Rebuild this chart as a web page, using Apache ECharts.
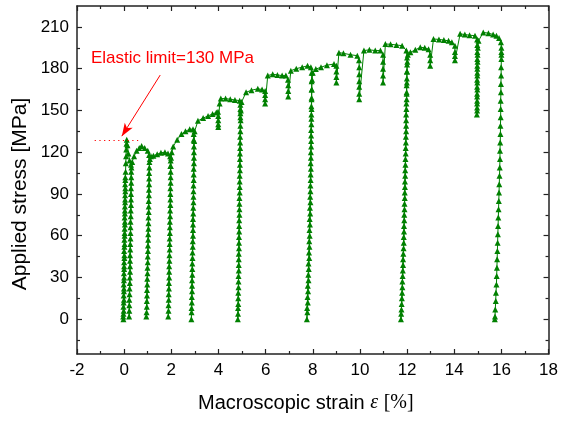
<!DOCTYPE html>
<html>
<head>
<meta charset="utf-8">
<script src="https://cdn.jsdelivr.net/npm/echarts@6/dist/echarts.min.js"></script>
<style>
  html, body { margin: 0; padding: 0; background: #fff; }
  #chart { width: 561px; height: 421px; }
</style>
</head>
<body>
<div id="chart"></div>
<script>
// strain [%], stress [MPa] in test order
var firstLoad = [[-0.03,0],[-0.02,6],[-0.01,14],[-0.01,22],[0.0,30],[0.0,38],[0.01,46],[0.02,54],[0.02,62],[0.03,70],[0.03,78],[0.04,86],[0.05,94],[0.05,102],
  [0.04,97],[0.04,89],[0.03,81],[0.02,73],[0.02,65],[0.01,57],[0.0,49],[0.0,41],[-0.01,33],[-0.02,25],[-0.02,17],[-0.03,9],[-0.04,2],
  [-0.03,4],[-0.02,12],[-0.01,20],[-0.01,28],[0.0,36],[0.01,44],[0.01,52],[0.02,60],[0.03,68],[0.03,76],[0.04,84],[0.05,92],[0.05,100],[0.06,106],[0.07,112],[0.08,117],[0.09,122],[0.1,126],[0.11,129]];
var yieldDrop = [[0.14,125],[0.18,119],[0.23,114],[0.29,111]];
var cycle03 = [[0.3,106],[0.3,98],[0.29,90],[0.29,82],[0.28,74],[0.27,66],[0.27,58],[0.26,50],[0.25,42],[0.25,34],[0.24,26],[0.23,18],[0.22,10],[0.21,2],
  [0.22,6],[0.22,14],[0.23,22],[0.24,30],[0.25,38],[0.25,46],[0.26,54],[0.27,62],[0.27,70],[0.28,78],[0.29,86],[0.29,94],[0.3,102],[0.31,109],[0.34,113]];
var harden1 = [[0.42,117],[0.53,121],[0.64,123],[0.74,124.5],[0.87,123],[1.0,121],[1.06,118]];
var cycle1 = [[1.07,113],[1.06,105],[1.06,97],[1.05,89],[1.04,81],[1.03,73],[1.03,65],[1.02,57],[1.01,49],[1.0,41],[0.99,33],[0.98,25],[0.97,17],[0.96,9],[0.94,2],
  [0.95,5],[0.96,13],[0.97,21],[0.98,29],[0.99,37],[1.0,45],[1.01,53],[1.02,61],[1.03,69],[1.04,77],[1.04,85],[1.05,93],[1.06,101],[1.07,109],[1.09,115],[1.14,117]];
var harden2 = [[1.24,117.5],[1.4,118.5],[1.56,119.5],[1.73,120],[1.86,119],[1.95,117]];
var cycle2 = [[1.97,114],[1.96,110],[1.97,106],[1.97,98],[1.96,90],[1.96,82],[1.95,74],[1.94,66],[1.93,58],[1.93,50],[1.92,42],[1.91,34],[1.9,26],[1.89,18],[1.88,10],[1.87,2],
  [1.88,6],[1.89,14],[1.9,22],[1.91,30],[1.91,38],[1.92,46],[1.93,54],[1.94,62],[1.94,70],[1.95,78],[1.96,86],[1.96,94],[1.97,102],[1.98,110],[1.99,116],[2.02,120]];
var harden3 = [[2.08,124],[2.25,129],[2.43,133],[2.6,135],[2.78,136.5],[2.92,136.5]];
var cycle3 = [[2.95,133],[2.95,129],[2.96,124],[2.96,116],[2.95,108],[2.95,100],[2.94,92],[2.94,84],[2.93,76],[2.92,68],[2.92,60],[2.91,52],[2.9,44],[2.89,36],[2.88,28],[2.88,20],[2.87,12],[2.86,5],[2.85,0],
  [2.86,8],[2.87,16],[2.88,24],[2.89,32],[2.89,40],[2.9,48],[2.91,56],[2.92,64],[2.92,72],[2.93,80],[2.94,88],[2.94,96],[2.95,104],[2.96,112],[2.96,120],[2.97,128],[2.99,135]];
var harden4 = [[3.13,142.5],[3.35,144.5],[3.56,146],[3.75,147.5],[3.91,148.5],[3.98,149]];
var relax4 = [[3.99,146],[3.99,143],[3.99,140],[3.99,138]];
var harden5 = [[4.05,155],[4.1,158.5],[4.3,158.5],[4.5,158],[4.7,157.5],[4.9,157]];
var cycle5 = [[4.93,154],[4.93,151],[4.93,148],[4.93,145],[4.93,139],[4.92,131],[4.92,123],[4.91,115],[4.91,107],[4.9,99],[4.9,91],[4.89,83],[4.89,75],[4.88,67],[4.87,59],[4.87,51],[4.86,43],[4.86,35],[4.85,27],[4.84,19],[4.84,11],[4.83,4],[4.82,0],
  [4.83,8],[4.84,15],[4.85,23],[4.85,31],[4.86,39],[4.86,47],[4.87,55],[4.88,63],[4.88,71],[4.89,79],[4.89,87],[4.9,95],[4.9,103],[4.91,111],[4.91,119],[4.92,127],[4.93,135],[4.94,143],[4.95,150],[4.98,156]];
var harden6 = [[5.17,163],[5.4,164.5],[5.67,165.5],[5.85,165],[5.98,164]];
var relax6 = [[5.98,161],[5.98,158],[5.98,155]];
var harden7 = [[6.09,175],[6.3,176],[6.5,175.5],[6.7,175],[6.86,175],[6.95,172]];
var relax7 = [[6.96,168],[6.96,164],[6.96,160]];
var harden8 = [[7.07,178.5],[7.3,180],[7.55,181],[7.78,182],[7.92,181]];
var cycle8 = [[7.95,177],[7.95,171],[7.95,165],[7.95,159],[7.94,153],[7.94,147],[7.94,140],[7.93,132],[7.93,124],[7.92,116],[7.92,108],[7.91,100],[7.9,92],[7.9,84],[7.89,76],[7.88,68],[7.87,60],[7.86,52],[7.85,44],[7.83,36],[7.82,28],[7.8,20],[7.79,12],[7.77,5],[7.75,0],
  [7.76,8],[7.78,16],[7.79,24],[7.81,32],[7.82,40],[7.84,48],[7.85,56],[7.86,64],[7.87,72],[7.88,80],[7.89,88],[7.9,96],[7.91,104],[7.91,112],[7.92,120],[7.93,128],[7.93,136],[7.94,144],[7.95,151],[7.95,158],[7.96,165],[7.97,172],[8.0,177]];
var harden9 = [[8.13,179.7],[8.35,181],[8.6,182.5],[8.9,183.3],[9.0,182]];
var relax9 = [[9.0,178],[9.0,174],[9.0,170]];
var harden10 = [[9.11,191.5],[9.3,191],[9.6,190],[9.89,189.3],[9.96,186]];
var relax10 = [[9.97,181],[9.97,176],[9.97,171],[9.97,167],[9.97,162],[9.97,158]];
var harden11 = [[10.17,193],[10.4,193.5],[10.65,193],[10.87,193],[10.98,190]];
var relax11 = [[10.98,185],[10.98,180],[10.98,175],[10.98,170]];
var harden12 = [[11.08,197.7],[11.3,197.5],[11.55,197],[11.79,196.5],[11.97,193]];
var cycle12 = [[12.0,188],[12.0,183],[11.99,178],[11.99,173],[11.98,168],[11.98,163],[11.98,158],[11.97,151],[11.96,143],[11.96,135],[11.95,127],[11.94,119],[11.93,111],[11.92,103],[11.91,95],[11.9,87],[11.89,79],[11.88,71],[11.87,63],[11.86,55],[11.84,47],[11.83,39],[11.81,31],[11.8,23],[11.78,15],[11.76,7],[11.74,0],
  [11.75,4],[11.77,11],[11.79,19],[11.8,27],[11.82,35],[11.83,43],[11.85,51],[11.86,59],[11.87,67],[11.88,75],[11.89,83],[11.9,91],[11.91,99],[11.92,107],[11.93,115],[11.94,123],[11.95,131],[11.96,139],[11.96,147],[11.97,155],[11.98,162],[11.99,170],[12.0,178],[12.01,185],[12.03,190]];
var harden13 = [[12.14,191.7],[12.35,193.5],[12.56,195.3],[12.75,195],[12.91,194]];
var relax13 = [[12.98,190],[12.98,186],[12.98,182]];
var harden14 = [[13.12,201.3],[13.35,201],[13.56,200.5],[13.76,200],[13.9,199],[14.03,196.5]];
var relax14 = [[14.03,192],[14.03,189],[14.03,186]];
var harden15 = [[14.25,205],[14.45,204.5],[14.65,204],[14.88,203.7],[14.97,201]];
var cycle15 = [[14.98,197],[14.98,192],[14.98,187],[14.98,182],[14.98,177],[14.97,172],[14.97,167],[14.97,162],[14.97,157],[14.97,152],[14.96,147],
  [14.97,150],[14.97,155],[14.97,160],[14.98,165],[14.98,170],[14.98,175],[14.98,180],[14.99,185],[14.99,190],[15.0,195],[15.03,200]];
var harden16 = [[15.23,206],[15.45,205.5],[15.65,204.5],[15.79,203.7],[15.9,202],[15.98,199]];
var finalUnload = [[16.0,195],[16.0,192],[16.0,190],[16.0,187],[15.99,181],[15.99,175],[15.98,169],[15.98,163],[15.97,157],[15.97,151],[15.97,145],[15.96,139],[15.96,133],[15.95,127],[15.94,121],[15.94,115],[15.93,109],[15.92,103],[15.91,97],[15.9,91],[15.89,85],[15.88,79],[15.87,73],[15.86,67],[15.85,61],[15.84,55],[15.83,49],[15.82,43],[15.81,37],[15.8,31],[15.79,25],[15.77,19],[15.76,13],[15.74,7],[15.73,2],[15.72,0]];

var curve = [].concat(firstLoad, yieldDrop, cycle03, harden1, cycle1, harden2, cycle2, harden3, cycle3,
  harden4, relax4, harden5, cycle5, harden6, relax6, harden7, relax7, harden8, cycle8, harden9, relax9,
  harden10, relax10, harden11, relax11, harden12, cycle12, harden13, relax13, harden14, relax14,
  harden15, cycle15, harden16, finalUnload);

var yTicks = [0, 30, 60, 90, 120, 150, 180, 210];
var yMinorTicks = [-15, 15, 45, 75, 105, 135, 165, 195];
var elasticLimit = 128.5;

var font = "'Liberation Sans', Arial, sans-serif";
var serif = "'Liberation Serif', 'DejaVu Serif', serif";
var frameColor = '#222';
var green = '#008000';
var red = '#ff0000';

var chart = echarts.init(document.getElementById('chart'));

function xFrame(pos, labels) {
  return {
    type: 'value', position: pos, min: -2, max: 18, interval: 2,
    axisLine: { show: true, onZero: false, lineStyle: { color: frameColor, width: 1.5 } },
    axisTick: { show: true, inside: true, length: 5, lineStyle: { color: frameColor, width: 1.2 } },
    minorTick: { show: true, splitNumber: 2, length: 3, lineStyle: { color: frameColor, width: 1.2 } },
    axisLabel: { show: labels, margin: 8, color: '#000', fontSize: 17, fontFamily: font },
    splitLine: { show: false }
  };
}

// y frame: labels/ticks through customValues, since the range starts at -25
function yFrame(pos, ticks, len, line, labels) {
  return {
    type: 'value', position: pos, min: -25, max: 225,
    axisLine: { show: line, onZero: false, lineStyle: { color: frameColor, width: 1.5 } },
    axisTick: { show: true, inside: true, length: len, customValues: ticks, lineStyle: { color: frameColor, width: 1.2 } },
    axisLabel: { show: labels, customValues: ticks, margin: 8, color: '#000', fontSize: 17, fontFamily: font },
    splitLine: { show: false }
  };
}

var option = {
  animation: false,
  backgroundColor: '#fff',
  grid: { left: 77, right: 10, top: 6, bottom: 67 },
  xAxis: [xFrame('bottom', true), xFrame('top', false)],
  yAxis: [
    yFrame('left', yTicks, 5, true, true),
    yFrame('left', yMinorTicks, 3, false, false),
    yFrame('right', yTicks, 5, true, false),
    yFrame('right', yMinorTicks, 3, false, false)
  ],
  series: [
    {
      type: 'line',
      data: curve,
      symbol: 'triangle',
      symbolSize: 6,
      showSymbol: true,
      itemStyle: { color: green },
      lineStyle: { color: green, width: 1 },
      markLine: {
        silent: true,
        label: { show: false },
        lineStyle: { color: red, width: 1, type: 'solid' },
        data: [
          [
            { coord: [-1.25, elasticLimit], symbol: 'none', lineStyle: { type: [1.2, 3.5], color: red, width: 1.2 } },
            { coord: [0.6, elasticLimit], symbol: 'none' }
          ],
          [
            { coord: [1.53, 175.4], symbol: 'none' },
            { coord: [-0.1, 131.5], symbol: 'arrow', symbolSize: [7, 13] }
          ]
        ]
      }
    }
  ],
  graphic: [
    {
      type: 'text', x: 91, y: 58,
      style: { text: 'Elastic limit=130 MPa', fill: red, font: '17px ' + font, align: 'left', verticalAlign: 'middle' }
    },
    {
      type: 'text', x: 20, y: 194, rotation: Math.PI / 2,
      style: { text: 'Applied stress [MPa]', fill: '#000', font: '21px ' + font, align: 'center', verticalAlign: 'middle' }
    },
    {
      type: 'text', x: 198, y: 403,
      style: {
        text: 'Macroscopic strain {e|ε} {b|[%]}',
        fill: '#000', font: '20px ' + font, align: 'left', verticalAlign: 'middle',
        rich: {
          e: { fontFamily: serif, fontStyle: 'italic', fontSize: 20, fill: '#000' },
          b: { fontFamily: serif, fontSize: 20, fill: '#000' }
        }
      }
    }
  ]
};

chart.setOption(option);
</script>
</body>
</html>
